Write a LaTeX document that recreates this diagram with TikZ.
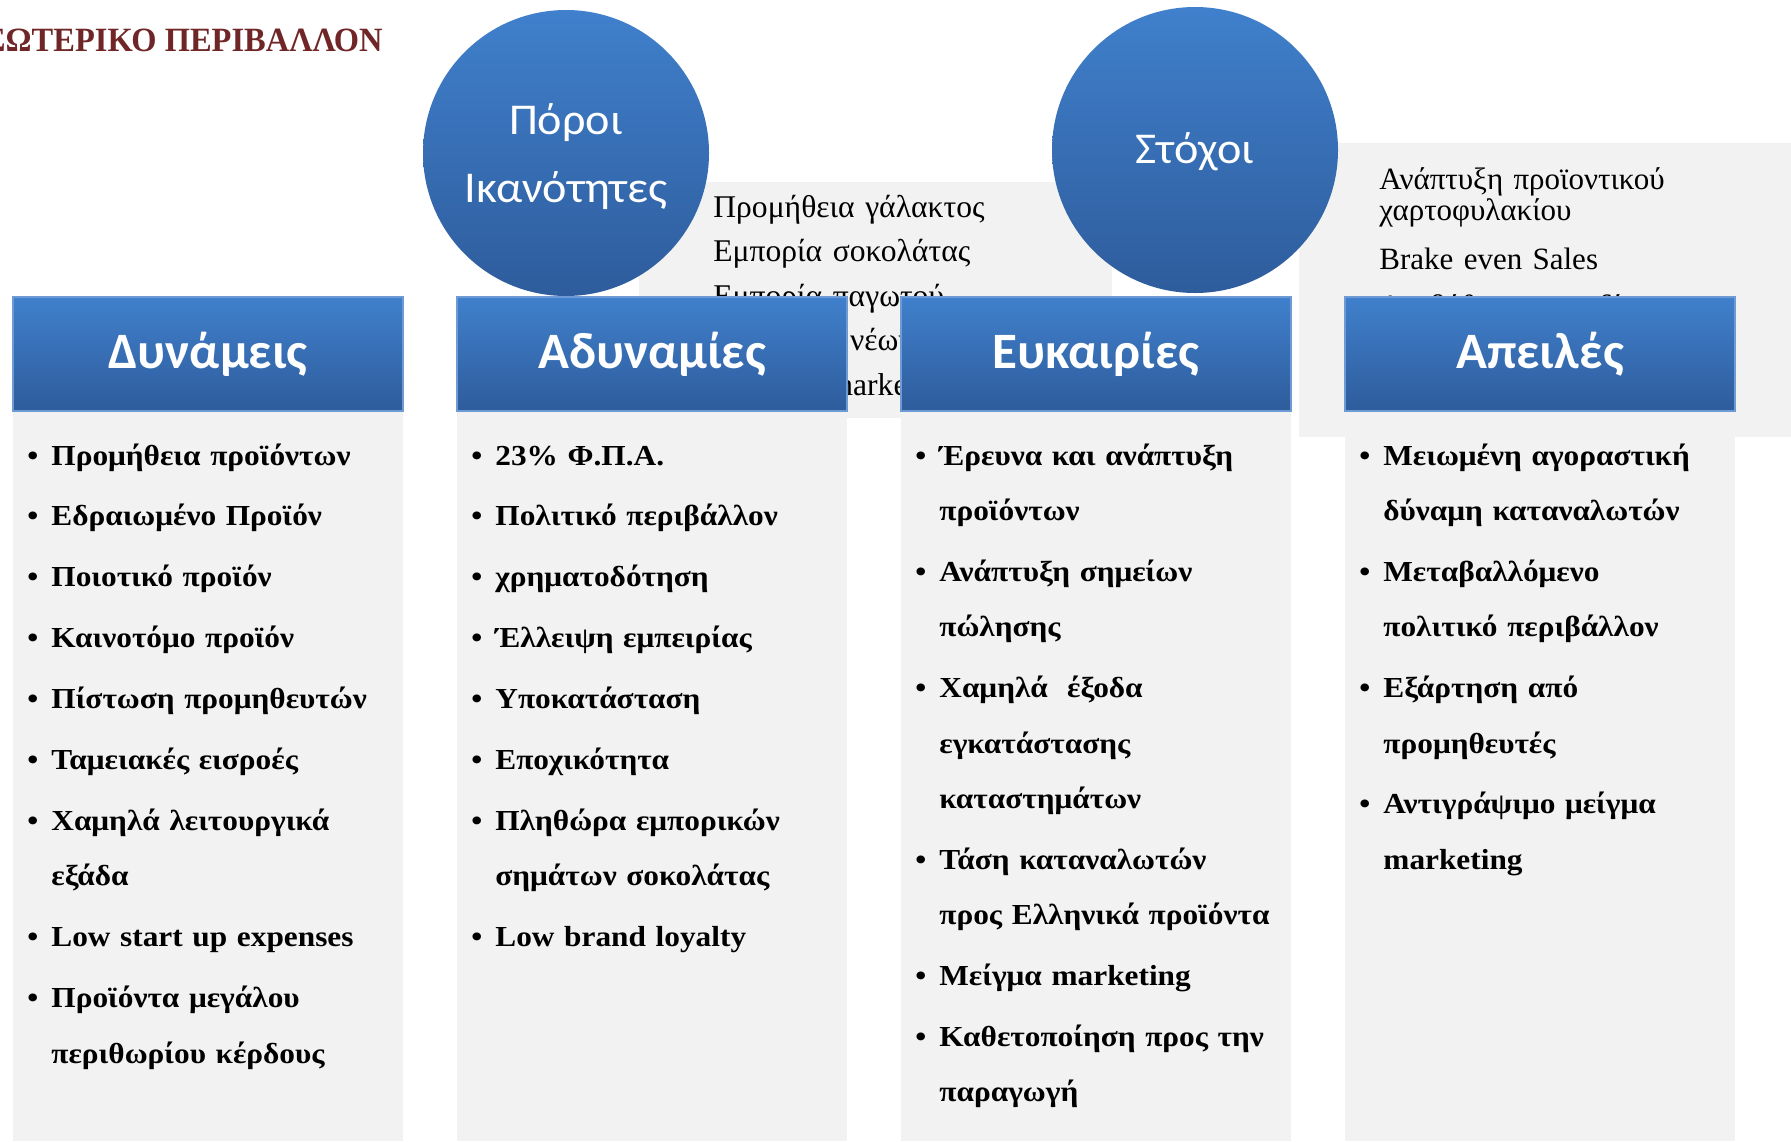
\documentclass[tikz,border=0pt]{standalone}
\usepackage{fontspec}
\setmainfont{Liberation Serif}
\newfontfamily\calibri{Carlito}
\newfontfamily\bubblefont[FakeStretch=1.05]{Carlito}
\newfontfamily\listfont[FakeStretch=1.08]{Liberation Serif}
\newfontfamily\titlefont[FakeStretch=0.955]{Liberation Serif}

\definecolor{hdtop}{RGB}{64,128,204}
\definecolor{hdbot}{RGB}{46,92,156}
\definecolor{hdedge}{RGB}{110,155,212}
\definecolor{panelgray}{RGB}{242,242,242}
\definecolor{titlered}{RGB}{112,38,38}

\newcommand{\swotitem}[1]{\hangindent=12pt\hangafter=1\makebox[12pt][l]{\textbullet}#1\par}

\begin{document}
\begin{tikzpicture}[x=0.5pt,y=-0.5pt,
		header/.style={minimum width=195pt, minimum height=57pt, inner sep=0pt,
			top color=hdtop, bottom color=hdbot, draw=hdedge, line width=0.6pt,
			text=white, font=\calibri\bfseries\fontsize{25.5}{30}\selectfont},
		bubble/.style={circle, minimum size=143pt, inner sep=0pt,
			top color=hdtop, bottom color=hdbot},
		bubbletext/.style={anchor=base, inner sep=0pt, text width=140pt, align=center,
			text=white, font=\bubblefont\fontsize{22}{34}\selectfont},
		swotlist/.style={anchor=base west, inner sep=0pt, text width=220pt, align=left,
			font=\listfont\bfseries\fontsize{14.5}{27.7}\selectfont},
		panel/.style={anchor=base west, inner sep=0pt, text width=200pt, align=left}]
	\useasboundingbox (0,0) rectangle (1791,1141);

	% title, cut at the left edge
	\node[anchor=base east, inner sep=0pt, text=titlered,
		font=\titlefont\bfseries\fontsize{17}{20}\selectfont] (title) at (383,51) {ΕΣΩΤΕΡΙΚΟ ΠΕΡΙΒΑΛΛΟΝ};

	% text panels behind the circles
	\fill[panelgray] (639,182) rectangle (1112,418);
	\fill[panelgray] (1299,143) rectangle (1791,437);
	\node[panel, font=\fontsize{15.8}{22.25}\selectfont] (resources) at (713,217)
		{Προμήθεια γάλακτος\\Εμπορία σοκολάτας\\Εμπορία παγωτού\\Ανάπτυξη νέων προϊόντων\\Γνώσεις marketing};
	\node[panel, font=\fontsize{15.5}{15.5}\selectfont] (goals) at (1379,189)
		{Ανάπτυξη προϊοντικού\\χαρτοφυλακίου\\[9pt]Brake even Sales\\[8pt]Αναβάθμιση μεριδίου};

	\node[bubble] (poroi) at (566,153) {};
	\node[bubble] (stoxoi) at (1195,150) {};
	\node[bubbletext] (poroilbl) at (566,134) {Πόροι\\Ικανότητες};
	\node[bubbletext] (stoxoilbl) at (1195,163) {Στόχοι};

	% columns
	\foreach \cx in {13,457,901,1345}
		\fill[panelgray] (\cx,411) rectangle ++(390,730);

	\node[header] (dyn) at (208,354) {Δυνάμεις};
	\node[header] (adyn) at (652,354) {Αδυναμίες};
	\node[header] (euk) at (1096,354) {Ευκαιρίες};
	\node[header] (apeil) at (1540,354) {Απειλές};

	\node[swotlist] (dynlist) at (27,465) {\setlength\parskip{2.75pt}%
		\swotitem{Προμήθεια προϊόντων}
		\swotitem{Εδραιωμένο Προϊόν}
		\swotitem{Ποιοτικό προϊόν}
		\swotitem{Καινοτόμο προϊόν}
		\swotitem{Πίστωση προμηθευτών}
		\swotitem{Ταμειακές εισροές}
		\swotitem{Χαμηλά λειτουργικά\newline εξάδα}
		\swotitem{Low start up expenses}
		\swotitem{Προϊόντα μεγάλου\newline περιθωρίου κέρδους}};

	\node[swotlist] (adynlist) at (471,465) {\setlength\parskip{2.75pt}%
		\swotitem{23\% Φ.Π.Α.}
		\swotitem{Πολιτικό περιβάλλον}
		\swotitem{χρηματοδότηση}
		\swotitem{Έλλειψη εμπειρίας}
		\swotitem{Υποκατάσταση}
		\swotitem{Εποχικότητα}
		\swotitem{Πληθώρα εμπορικών\newline σημάτων σοκολάτας}
		\swotitem{Low brand loyalty}};

	\node[swotlist] (euklist) at (915,465) {\setlength\parskip{2.75pt}%
		\swotitem{Έρευνα και ανάπτυξη\newline προϊόντων}
		\swotitem{Ανάπτυξη σημείων\newline πώλησης}
		\swotitem{Χαμηλά~ έξοδα\newline εγκατάστασης\newline καταστημάτων}
		\swotitem{Τάση καταναλωτών\newline προς Ελληνικά προϊόντα}
		\swotitem{Μείγμα marketing}
		\swotitem{Καθετοποίηση προς την\newline παραγωγή}};

	\node[swotlist] (apeillist) at (1359,465) {\setlength\parskip{2.75pt}%
		\swotitem{Μειωμένη αγοραστική\newline δύναμη καταναλωτών}
		\swotitem{Μεταβαλλόμενο\newline πολιτικό περιβάλλον}
		\swotitem{Εξάρτηση από\newline προμηθευτές}
		\swotitem{Αντιγράψιμο μείγμα\newline marketing}};
\end{tikzpicture}
\end{document}
